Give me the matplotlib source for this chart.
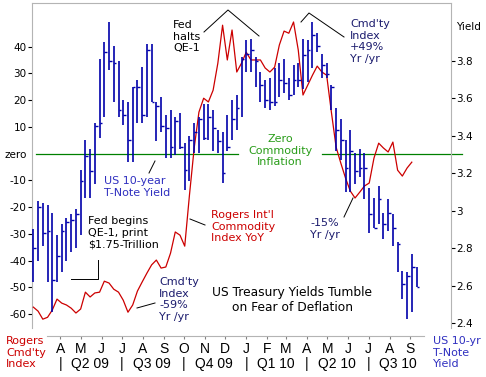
import matplotlib
matplotlib.use('Agg')
import matplotlib.pyplot as plt
import matplotlib.transforms as mtransforms
import matplotlib.dates as mdates
import pandas as pd

plt.rcParams['font.family'] = ['DejaVu Sans']

# weekly US 10-year T-note yield bars (high / low / close)
weeks = pd.date_range('2009-03-06', periods=82, freq='7D')

t_high = [2.90, 3.05, 3.04, 3.03, 2.99, 2.87, 2.93, 2.96, 2.98, 3.01,
          3.22, 3.38, 3.33, 3.47, 3.81, 3.90, 4.01, 3.88, 3.80, 3.59,
          3.58, 3.66, 3.70, 3.77, 3.89, 3.89, 3.58, 3.61, 3.51, 3.54,
          3.50, 3.52, 3.36, 3.40, 3.47, 3.50, 3.57, 3.57, 3.54, 3.43,
          3.42, 3.51, 3.59, 3.62, 3.82, 3.91, 3.92, 3.82, 3.74, 3.70,
          3.71, 3.76, 3.79, 3.81, 3.71, 3.78, 3.79, 3.92, 3.91, 4.01,
          3.95, 3.84, 3.79, 3.67, 3.55, 3.49, 3.38, 3.43, 3.31, 3.33,
          3.31, 3.12, 3.07, 3.13, 2.99, 3.06, 2.98, 2.83, 2.68, 2.67,
          2.77, 2.70]
t_low = [2.62, 2.73, 2.81, 2.62, 2.46, 2.62, 2.67, 2.73, 2.78, 2.80,
         2.87, 3.07, 3.07, 3.14, 3.39, 3.50, 3.75, 3.58, 3.50, 3.46,
         3.26, 3.26, 3.47, 3.47, 3.50, 3.58, 3.37, 3.42, 3.28, 3.28,
         3.30, 3.33, 3.11, 3.16, 3.31, 3.31, 3.38, 3.38, 3.32, 3.31,
         3.15, 3.32, 3.38, 3.43, 3.50, 3.74, 3.74, 3.66, 3.58, 3.55,
         3.54, 3.56, 3.61, 3.63, 3.59, 3.62, 3.66, 3.65, 3.69, 3.76,
         3.85, 3.71, 3.71, 3.54, 3.32, 3.27, 3.10, 3.10, 3.14, 3.18,
         3.06, 2.88, 2.91, 2.93, 2.85, 2.89, 2.81, 2.67, 2.53, 2.42,
         2.46, 2.59]
t_close = [2.80, 3.02, 2.88, 2.89, 2.63, 2.76, 2.89, 2.94, 2.95, 2.98,
           3.16, 3.29, 3.21, 3.45, 3.47, 3.85, 3.80, 3.79, 3.54, 3.51,
           3.38, 3.66, 3.66, 3.51, 3.86, 3.58, 3.56, 3.45, 3.44, 3.34,
           3.48, 3.34, 3.22, 3.38, 3.42, 3.49, 3.39, 3.50, 3.44, 3.37,
           3.20, 3.34, 3.49, 3.55, 3.81, 3.84, 3.86, 3.80, 3.67, 3.59,
           3.58, 3.58, 3.70, 3.68, 3.62, 3.70, 3.70, 3.83, 3.86, 3.94,
           3.88, 3.78, 3.73, 3.66, 3.43, 3.38, 3.23, 3.32, 3.21, 3.23,
           3.23, 2.98, 2.91, 3.06, 2.93, 2.99, 2.91, 2.82, 2.61, 2.65,
           2.70, 2.59]

# Rogers Int'l Commodity Index, % year over year
cmdty_yoy = [-57.4, -58.9, -61.9, -61.2, -58.5, -54.4, -55.9, -56.6, -57.8, -59.6,
             -58.1, -51.8, -53.6, -52.1, -51.8, -47.7, -48.4, -50.7, -51.8, -54.8,
             -59.3, -56.6, -51.4, -48.0, -44.7, -41.6, -39.8, -42.8, -42.4, -37.2,
             -29.3, -30.5, -34.6, -15.5, 2.1, 15.5, 20.7, 19.3, 23.7, 33.8,
             48.0, 35.0, 46.2, 30.5, 33.8, 37.9, 35.0, 35.0, 35.0, 32.0,
             30.5, 32.3, 40.6, 45.8, 45.0, 49.2, 38.7, 21.9, 25.6, 29.3,
             32.7, 30.5, 29.3, 15.5, 2.4, -3.6, -9.2, -14.0, -16.6, -14.4,
             -12.1, -11.0, -1.7, 3.9, 2.1, 0.6, 4.3, -6.2, -8.4, -5.4,
             -3.2]

pct_ticks = [-60, -50, -40, -30, -20, -10, 0, 10, 20, 30, 40]
pct_labels = ['-60', '-50', '-40', '-30', '-20', '-10', 'zero', '10', '20', '30', '40']
yield_ticks = [2.4, 2.6, 2.8, 3.0, 3.2, 3.4, 3.6, 3.8]
yield_labels = ['2.4', '2.6', '2.8', '3', '3.2', '3.4', '3.6', '3.8']
month_letters = ['A', 'M', 'J', 'J', 'A', 'S', 'O', 'N', 'D',
                 'J', 'F', 'M', 'A', 'M', 'J', 'J', 'A', 'S']
quarters = ['Q2 09', 'Q3 09', 'Q4 09', 'Q1 10', 'Q2 10', 'Q3 10']

W, H = 486, 377
BLUE = '#0000aa'
RED = '#cc0000'
NAVY = '#1c1c6e'
GRAY = '#b4b4b4'


def fx(x):
    return x / W


def fy(y):
    return 1 - y / H


fig = plt.figure(figsize=(W / 100, H / 100), dpi=100)
ax = fig.add_axes([fx(32), fy(328), (451 - 32) / W, (328 - 3) / H])
ax2 = ax.twinx()

x0, x1 = pd.Timestamp('2009-03-04'), pd.Timestamp('2010-11-14')
ax.set_xlim(x0, x1)
ax.set_ylim(-65.2, 56.3)
ax2.set_ylim(2.373, 4.110)

# zero commodity inflation line (broken where the label sits)
ax.axhline(0, xmin=(36 - 32) / 419, xmax=(238 - 32) / 419, color='#008000', lw=0.9,
           clip_on=False, zorder=1)
ax.axhline(0, xmin=(322 - 32) / 419, xmax=(462 - 32) / 419, color='#008000', lw=0.9,
           clip_on=False, zorder=1)

ax.plot(weeks[:len(cmdty_yoy)], cmdty_yoy, color=RED, lw=0.9, zorder=3)

ax2.vlines(weeks, t_low, t_high, color=BLUE, lw=1.2)
ax2.hlines(t_close, weeks, weeks + pd.Timedelta(days=4), color=BLUE, lw=1.0)

for s in ['bottom', 'right']:
    ax.spines[s].set_visible(False)
for s in ['bottom', 'left', 'top']:
    ax2.spines[s].set_visible(False)
for s in ['left', 'top']:
    ax.spines[s].set_color(GRAY)
ax2.spines['right'].set_color(GRAY)

ax.set_xticks([])
ax.set_yticks(pct_ticks)
ax.set_yticklabels(pct_labels)
ax.tick_params(axis='y', length=3, width=0.8, pad=1, labelsize=7.5)
ax.yaxis.get_major_ticks()[pct_ticks.index(0)].tick1line.set_visible(False)

ax2.set_yticks(yield_ticks)
ax2.set_yticklabels(yield_labels)
ax2.tick_params(axis='y', length=3, width=0.8, pad=1, labelsize=7.5)

# time axis below the plot
month_dates = pd.date_range('2009-04-01', periods=18, freq='MS') + pd.Timedelta(days=14)
axb = fig.add_axes([fx(32), fy(336), (451 - 32) / W, 0.001])
axb.set_xlim(x0, x1)
axb.patch.set_visible(False)
for s in ['left', 'right', 'top']:
    axb.spines[s].set_visible(False)
axb.spines['bottom'].set_color(GRAY)
axb.spines['bottom'].set_bounds(mdates.date2num(pd.Timestamp('2009-03-26')),
                                mdates.date2num(pd.Timestamp('2010-10-05')))
axb.set_yticks([])
axb.set_xticks(month_dates)
axb.set_xticklabels(month_letters)
axb.tick_params(axis='x', length=2, color='#808080', pad=2, labelsize=10,
                labelfontfamily='Liberation Sans')

qtrans = mtransforms.blended_transform_factory(axb.transData, fig.transFigure)
for d, q in zip(month_dates[::3], quarters):
    axb.text(d, fy(364), '|', transform=qtrans, ha='center', va='center',
             fontsize=10, family='Liberation Sans')
    axb.text(d + pd.Timedelta(days=16), fy(364), q, transform=qtrans, ha='left',
             va='center', fontsize=10, family='Liberation Sans')


def note(x, y, s, color='black', size=8, **kw):
    fig.text(fx(x), fy(y), s, color=color, fontsize=size, va='top',
             linespacing=1.2, **kw)


def pointer(xs, ys):
    fig.add_artist(plt.Line2D([fx(v) for v in xs], [fy(v) for v in ys],
                              color='black', lw=0.7))


note(173, 20, 'Fed\nhalts\nQE-1')
pointer([204, 228, 259], [32, 10, 36])
pointer([301, 309, 344], [22, 13, 37])
note(350, 19, "Cmd'ty\nIndex\n+49%\nYr /yr", color=NAVY)
note(280, 134, 'Zero\nCommodity\nInflation', color='#2a9d1a', ha='center',
     multialignment='center')
note(104, 176, 'US 10-year\nT-Note Yield', color='#3030c0')
pointer([149, 155], [173, 161])
note(88, 216, 'Fed begins\nQE-1, print\n$1.75-Trillion')
pointer([71, 98, 98], [279, 279, 260])
note(211, 210, "Rogers Int'l\nCommodity\nIndex YoY", color=RED)
pointer([190, 205], [219, 225])
note(159, 277, "Cmd'ty\nIndex\n-59%\nYr /yr", color=NAVY)
pointer([137, 155], [308, 303])
note(292, 286, 'US Treasury Yields Tumble\non Fear of Deflation', size=8.8,
     ha='center', multialignment='center')
note(310, 218, '-15%\nYr /yr', color=NAVY)
pointer([344, 353], [217, 198])
note(6, 336, "Rogers\nCmd'ty\nIndex", color=RED)
note(433, 336, 'US 10-yr\nT-Note\nYield', color='#3030c0')
note(456, 22, 'Yield', size=7.5)

fig.savefig('out.png', dpi=100)
